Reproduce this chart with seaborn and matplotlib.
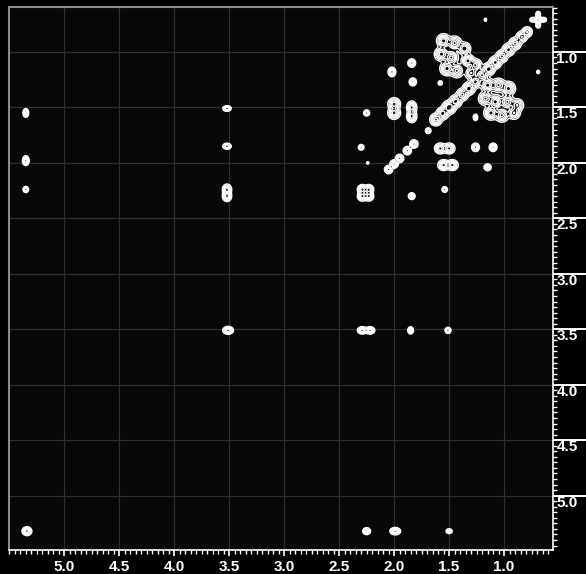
import numpy as np
import matplotlib
matplotlib.use("Agg")
import matplotlib.pyplot as plt
import seaborn as sns
from matplotlib.ticker import MultipleLocator, FormatStrFormatter

# ---- peak list (ppm) ----
# F2 (horizontal) position, F1 (vertical) position, widths, relative intensity
peak_f2 = [
    # diagonal
    5.34, 3.51, 2.29, 2.23, 2.29, 2.23, 2.05, 2.00, 1.95, 1.88, 1.82, 1.69,
    1.62, 1.56, 1.50, 1.44, 1.38, 1.32, 1.26, 1.20, 1.14, 1.08, 1.02, 0.96, 0.90, 0.84, 0.79,
    # star multiplet
    0.69, 0.64, 0.74, 0.69, 0.69,
    # cross peaks
    5.35, 5.35, 5.35, 2.25, 1.99, 1.50,
    3.52, 3.52, 3.52, 3.52, 2.29, 2.22, 1.85, 1.51,
    2.25, 2.30, 2.24, 1.84, 1.54,
    1.58, 1.50, 1.26, 1.10, 1.55, 1.47, 1.15,
    2.00, 2.00, 2.02, 1.84, 1.84, 1.84, 1.83,
    1.58, 1.26, 1.17, 0.69,
    1.55, 1.45, 1.57, 1.48, 1.52, 1.43, 1.36, 1.33, 1.26, 1.30,
    1.15, 1.05, 0.96, 1.17, 1.08, 0.97, 0.88, 1.12, 1.02, 0.91,
]
peak_f1 = [
    5.32, 3.51, 2.24, 2.24, 2.30, 2.30, 2.06, 2.01, 1.96, 1.89, 1.83, 1.71,
    1.61, 1.555, 1.50, 1.445, 1.385, 1.33, 1.27, 1.21, 1.155, 1.095, 1.04, 0.98, 0.925, 0.865, 0.82,
    0.71, 0.71, 0.71, 0.66, 0.76,
    1.55, 1.98, 2.24, 5.32, 5.32, 5.32,
    1.51, 1.85, 2.24, 2.30, 3.51, 3.51, 3.51, 3.51,
    1.55, 1.86, 2.00, 2.30, 2.24,
    1.87, 1.87, 1.86, 1.86, 2.02, 2.02, 2.04,
    1.47, 1.55, 1.18, 1.50, 1.58, 1.10, 1.27,
    1.28, 1.59, 0.71, 1.18,
    0.90, 0.92, 1.02, 1.05, 1.15, 1.17, 0.97, 1.08, 1.12, 1.19,
    1.30, 1.30, 1.33, 1.42, 1.45, 1.45, 1.48, 1.55, 1.57, 1.55,
]
peak_w2 = [
    0.020, 0.022, 0.020, 0.020, 0.020, 0.020, 0.017, 0.017, 0.017, 0.017, 0.017, 0.012,
    0.026, 0.026, 0.028, 0.026, 0.026, 0.026, 0.026, 0.026, 0.026, 0.026, 0.026, 0.026, 0.026, 0.024, 0.022,
    0.016, 0.012, 0.012, 0.010, 0.010,
    0.012, 0.014, 0.012, 0.016, 0.022, 0.014,
    0.018, 0.018, 0.019, 0.019, 0.020, 0.020, 0.012, 0.013,
    0.013, 0.012, 0.006, 0.014, 0.012,
    0.024, 0.024, 0.016, 0.016, 0.024, 0.024, 0.015,
    0.026, 0.026, 0.016, 0.021, 0.021, 0.016, 0.015,
    0.010, 0.010, 0.006, 0.007,
    0.029, 0.029, 0.029, 0.029, 0.029, 0.029, 0.027, 0.027, 0.027, 0.027,
    0.029, 0.029, 0.029, 0.029, 0.029, 0.029, 0.027, 0.029, 0.029, 0.027,
]
peak_w1 = [
    0.018, 0.016, 0.020, 0.020, 0.020, 0.020, 0.017, 0.017, 0.017, 0.017, 0.017, 0.012,
    0.026, 0.026, 0.028, 0.026, 0.026, 0.026, 0.026, 0.026, 0.026, 0.026, 0.026, 0.026, 0.026, 0.024, 0.022,
    0.016, 0.010, 0.010, 0.012, 0.012,
    0.018, 0.020, 0.013, 0.014, 0.015, 0.011,
    0.012, 0.013, 0.022, 0.022, 0.015, 0.015, 0.015, 0.013,
    0.013, 0.012, 0.006, 0.014, 0.012,
    0.022, 0.022, 0.017, 0.017, 0.022, 0.022, 0.014,
    0.026, 0.026, 0.019, 0.026, 0.026, 0.017, 0.016,
    0.010, 0.014, 0.008, 0.008,
    0.029, 0.029, 0.029, 0.029, 0.029, 0.029, 0.027, 0.027, 0.027, 0.027,
    0.029, 0.029, 0.029, 0.029, 0.029, 0.029, 0.027, 0.029, 0.029, 0.027,
]
peak_amp = [
    1.0, 1.0, 1.0, 1.0, 1.0, 1.0, 1.0, 1.0, 1.0, 1.0, 1.0, 0.8,
    0.9, 1.0, 1.2, 1.0, 0.9, 1.1, 1.0, 0.9, 1.1, 1.0, 0.9, 1.0, 0.9, 0.8, 0.8,
    1.0, 0.8, 0.8, 0.8, 0.8,
    0.9, 1.0, 0.8, 1.0, 1.0, 0.6,
    0.8, 0.8, 1.0, 1.0, 1.0, 1.0, 0.9, 0.8,
    0.8, 0.8, 0.4, 0.9, 0.8,
    1.0, 1.0, 1.0, 1.0, 1.0, 1.0, 0.9,
    1.0, 1.0, 1.0, 1.0, 1.0, 1.0, 1.0,
    0.6, 0.7, 0.4, 0.5,
    1.0, 0.9, 1.0, 0.9, 1.0, 0.9, 0.8, 1.0, 0.9, 0.8,
    1.0, 0.9, 1.0, 0.9, 1.0, 0.9, 0.8, 1.0, 0.9, 0.8,
]
contour_levels = [0.08, 0.2, 0.35, 0.55, 0.8]
x_ticks = [5.0, 4.5, 4.0, 3.5, 3.0, 2.5, 2.0, 1.5, 1.0]
y_ticks = [1.0, 1.5, 2.0, 2.5, 3.0, 3.5, 4.0, 4.5, 5.0]

# ---- style ----
sns.set_theme(style="dark", rc={
    "figure.facecolor": "black",
    "axes.facecolor": "#070707",
    "axes.grid": True,
    "grid.color": "#2c2c2c",
    "grid.linewidth": 0.9,
})
plt.rcParams["font.family"] = ["Liberation Sans", "DejaVu Sans"]

fig = plt.figure(figsize=(5.86, 5.74), dpi=100, facecolor="black")
ax = fig.add_axes([0.0159, 0.0418, 0.9278, 0.946])

# ---- spectrum built from peak list ----
f2 = np.linspace(0.50, 5.55, 1400)
f1 = np.linspace(0.55, 5.55, 1400)
px = np.asarray(peak_f2)[:, None]
py = np.asarray(peak_f1)[:, None]
wx = np.asarray(peak_w2)[:, None]
wy = np.asarray(peak_w1)[:, None]
amp = np.asarray(peak_amp)[:, None]
Gx = np.exp(-0.5 * ((f2[None, :] - px) / wx) ** 2)
Gy = np.exp(-0.5 * ((f1[None, :] - py) / wy) ** 2)
Z = (Gy * amp).T @ Gx

ax.contour(f2, f1, Z, levels=contour_levels, colors="white", linewidths=1.0)

ax.set_xlim(5.50, 0.555)
ax.set_ylim(5.49, 0.595)

ax.set_xticks(x_ticks)
ax.set_yticks(y_ticks)
ax.xaxis.set_major_formatter(FormatStrFormatter("%.1f"))
ax.yaxis.set_major_formatter(FormatStrFormatter("%.1f"))
ax.xaxis.set_minor_locator(MultipleLocator(0.05))
ax.yaxis.set_minor_locator(MultipleLocator(0.05))
ax.yaxis.tick_right()
ax.grid(True, which="major", color="#2c2c2c", linewidth=0.9)
ax.grid(False, which="minor")

ax.tick_params(axis="x", which="major", direction="out", length=4.5, width=1.2,
               colors="white", labelsize=11, pad=2.5, bottom=True)
ax.tick_params(axis="x", which="minor", direction="out", length=2.8, width=1.0,
               colors="white", bottom=True)
ax.tick_params(axis="y", which="major", direction="out", length=24, width=1.4,
               colors="white", labelsize=11, pad=-21.5, right=True, left=False)
ax.tick_params(axis="y", which="minor", direction="out", length=2.8, width=1.0,
               colors="white", right=True, left=False)
for lbl in ax.get_xticklabels() + ax.get_yticklabels():
    lbl.set_fontweight("bold")
    lbl.set_color("white")
for lbl in ax.get_yticklabels():
    lbl.set_va("top")
    lbl.set_ha("left")

for side in ["left", "top"]:
    ax.spines[side].set_color("#8a8a8a")
    ax.spines[side].set_linewidth(1.5)
for side in ["right", "bottom"]:
    ax.spines[side].set_color("white")
    ax.spines[side].set_linewidth(1.2)
    ax.spines[side].set_visible(True)
ax.set_xlabel("")
ax.set_ylabel("")

fig.savefig("out.png", dpi=100, facecolor="black")
